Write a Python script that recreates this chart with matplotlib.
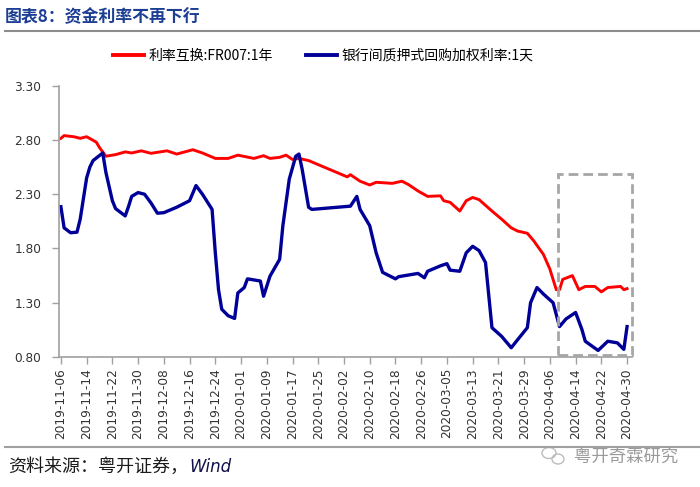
import matplotlib
matplotlib.use("Agg")
import matplotlib.pyplot as plt
import matplotlib.dates as mdates
from matplotlib.patches import Rectangle, Ellipse
from matplotlib.lines import Line2D
import pandas as pd

plt.rcParams['font.family'] = ['Noto Sans CJK SC', 'DejaVu Sans']

# 利率互换:FR007:1年
fr007_dates = ['2019-11-06', '2019-11-07', '2019-11-10', '2019-11-12', '2019-11-14',
               '2019-11-17', '2019-11-18', '2019-11-20', '2019-11-23', '2019-11-26',
               '2019-11-28', '2019-12-01', '2019-12-04', '2019-12-09', '2019-12-12',
               '2019-12-17', '2019-12-20', '2019-12-24', '2019-12-28', '2019-12-31',
               '2020-01-05', '2020-01-08', '2020-01-10', '2020-01-13', '2020-01-15',
               '2020-01-17', '2020-01-19', '2020-01-22', '2020-02-03', '2020-02-04',
               '2020-02-07', '2020-02-10', '2020-02-12', '2020-02-17', '2020-02-20',
               '2020-02-22', '2020-02-25', '2020-02-28', '2020-03-03', '2020-03-04',
               '2020-03-06', '2020-03-09', '2020-03-11', '2020-03-13', '2020-03-15',
               '2020-03-19', '2020-03-22', '2020-03-25', '2020-03-27', '2020-03-30',
               '2020-04-01', '2020-04-04', '2020-04-06', '2020-04-08', '2020-04-09',
               '2020-04-10', '2020-04-13', '2020-04-15', '2020-04-17', '2020-04-20',
               '2020-04-22', '2020-04-24', '2020-04-28', '2020-04-29', '2020-04-30']
fr007_vals = [2.815, 2.84, 2.83, 2.815, 2.83,
              2.78, 2.73, 2.65, 2.665, 2.69,
              2.68, 2.70, 2.677, 2.70, 2.67,
              2.71, 2.68, 2.63, 2.63, 2.66,
              2.63, 2.655, 2.63, 2.64, 2.66,
              2.62, 2.63, 2.61, 2.46, 2.48,
              2.42, 2.385, 2.41, 2.40, 2.42,
              2.39, 2.33, 2.28, 2.285, 2.24,
              2.225, 2.145, 2.24, 2.27, 2.25,
              2.145, 2.07, 1.99, 1.96, 1.94,
              1.87, 1.745, 1.61, 1.42, 1.42,
              1.515, 1.55, 1.42, 1.45, 1.45,
              1.40, 1.44, 1.45, 1.42, 1.43]

# 银行间质押式回购加权利率:1天
repo_dates = ['2019-11-06', '2019-11-07', '2019-11-09', '2019-11-11', '2019-11-12',
              '2019-11-14', '2019-11-15', '2019-11-16', '2019-11-19', '2019-11-20',
              '2019-11-22', '2019-11-23', '2019-11-26', '2019-11-27', '2019-11-28',
              '2019-11-30', '2019-12-02', '2019-12-04', '2019-12-06', '2019-12-08',
              '2019-12-12', '2019-12-14', '2019-12-16', '2019-12-18', '2019-12-20',
              '2019-12-23', '2019-12-24', '2019-12-25', '2019-12-26', '2019-12-28',
              '2019-12-30', '2019-12-31', '2020-01-02', '2020-01-03', '2020-01-07',
              '2020-01-08', '2020-01-10', '2020-01-13', '2020-01-14', '2020-01-16',
              '2020-01-18', '2020-01-19', '2020-01-20', '2020-01-22', '2020-01-23',
              '2020-02-04', '2020-02-06', '2020-02-07', '2020-02-10', '2020-02-12',
              '2020-02-14', '2020-02-18', '2020-02-19', '2020-02-25', '2020-02-27',
              '2020-02-28', '2020-03-03', '2020-03-05', '2020-03-06', '2020-03-09',
              '2020-03-11', '2020-03-13', '2020-03-15', '2020-03-17', '2020-03-19',
              '2020-03-22', '2020-03-25', '2020-03-27', '2020-03-30', '2020-03-31',
              '2020-04-02', '2020-04-04', '2020-04-07', '2020-04-09', '2020-04-11',
              '2020-04-14', '2020-04-16', '2020-04-17', '2020-04-21', '2020-04-24',
              '2020-04-27', '2020-04-29', '2020-04-30']
repo_vals = [2.185, 1.99, 1.945, 1.95, 2.07,
             2.45, 2.55, 2.61, 2.68, 2.50,
             2.24, 2.167, 2.10, 2.185, 2.28,
             2.315, 2.30, 2.22, 2.125, 2.13,
             2.18, 2.21, 2.24, 2.38, 2.30,
             2.16, 1.76, 1.42, 1.24, 1.18,
             1.155, 1.39, 1.44, 1.52, 1.50,
             1.36, 1.545, 1.70, 2.01, 2.44,
             2.65, 2.67, 2.53, 2.18, 2.16,
             2.19, 2.28, 2.16, 2.01, 1.76,
             1.58, 1.52, 1.54, 1.57, 1.53,
             1.59, 1.64, 1.66, 1.60, 1.59,
             1.76, 1.82, 1.78, 1.67, 1.07,
             0.99, 0.885, 0.96, 1.07, 1.30,
             1.44, 1.38, 1.30, 1.08, 1.15,
             1.21, 1.05, 0.945, 0.86, 0.945,
             0.93, 0.87, 1.08]

series_names = ['利率互换:FR007:1年', '银行间质押式回购加权利率:1天']
y_ticks = [0.80, 1.30, 1.80, 2.30, 2.80, 3.30]

fr_x = pd.to_datetime(fr007_dates)
repo_x = pd.to_datetime(repo_dates)
start = pd.Timestamp('2019-11-06')
end = pd.Timestamp('2020-04-30')

fig = plt.figure(figsize=(7, 4.87), dpi=100)
ax = fig.add_axes([0.0847, 0.267, 0.818, 0.557])

red, = ax.plot(fr_x, fr007_vals, color='#FF0000', lw=2.1, solid_joinstyle='round')
blue, = ax.plot(repo_x, repo_vals, color='#000099', lw=2.4, solid_joinstyle='round')

ax.set_xlim(start - pd.Timedelta(hours=12), start + pd.Timedelta(days=177.5))
ax.set_ylim(0.80, 3.30)
ax.set_yticks(y_ticks)
ax.set_yticklabels(['%.2f' % v for v in y_ticks])
ax.set_xticks(pd.date_range(start, end, freq='8D'))
ax.xaxis.set_major_formatter(mdates.DateFormatter('%Y-%m-%d'))

for lab in ax.get_xticklabels() + ax.get_yticklabels():
    lab.set_family('DejaVu Sans')
    lab.set_fontsize(8.7)
    lab.set_color('#333333')
for lab in ax.get_xticklabels():
    lab.set_rotation(90)

ax.tick_params(axis='both', direction='out', length=5, width=1, color='#A0A0A0')
ax.tick_params(axis='y', pad=8)
ax.tick_params(axis='x', pad=3)
for s in ['top', 'right']:
    ax.spines[s].set_visible(False)
for s in ['left', 'bottom']:
    ax.spines[s].set_color('#A0A0A0')
    ax.spines[s].set_linewidth(1.2)

# dashed highlight box
box_x0 = mdates.date2num(pd.Timestamp('2020-04-08 10:00'))
box_x1 = mdates.date2num(start + pd.Timedelta(days=177.5))
ax.add_patch(Rectangle((box_x0, 0.82), box_x1 - box_x0, 2.485 - 0.82,
                       fill=False, ec='#A6A6A6', lw=2.0, ls=(0, (3.5, 1.8)),
                       clip_on=False, zorder=5))

# legend
fig.legend([Line2D([], [], color='#FF0000', lw=2.8), Line2D([], [], color='#000099', lw=2.8)],
           series_names, loc='center', bbox_to_anchor=(0.462, 1 - 56 / 487), ncol=2,
           frameon=False, fontsize=10, handlelength=2.2, handletextpad=0.35,
           columnspacing=2.4)

# title and frame lines
fig.text(5 / 700, 1 - 17 / 487, '图表8：资金利率不再下行', fontsize=12.2, fontweight='bold',
         color='#1C3F94', va='center', ha='left')
fig.add_artist(Line2D([5 / 700, 1], [1 - 30.5 / 487] * 2, color='#8C8C8C', lw=1.5))
fig.add_artist(Line2D([5 / 700, 1], [1 - 447 / 487] * 2, color='#A0A0A0', lw=1.5))

fig.text(8 / 700, 1 - 467 / 487, '资料来源：粤开证券，', fontsize=13, color='#1a1a1a',
         va='center', ha='left')
fig.text(189 / 700, 1 - 467 / 487, 'Wind', fontsize=12, color='#10104a', style='italic',
         family='DejaVu Sans', va='center', ha='left')

# watermark
fig.add_artist(Ellipse((549 / 700, 1 - 453 / 487), 14 / 700, 11 / 487, fill=False,
                       ec='#BDBDBD', lw=1.0))
fig.add_artist(Ellipse((558 / 700, 1 - 459 / 487), 12 / 700, 10 / 487, fill=False,
                       ec='#BDBDBD', lw=1.0))
fig.text(574 / 700, 1 - 457 / 487, '粤开奇霖研究', fontsize=12.5, color='#9A9A9A',
         va='center', ha='left')

fig.savefig('out.png', dpi=100)
